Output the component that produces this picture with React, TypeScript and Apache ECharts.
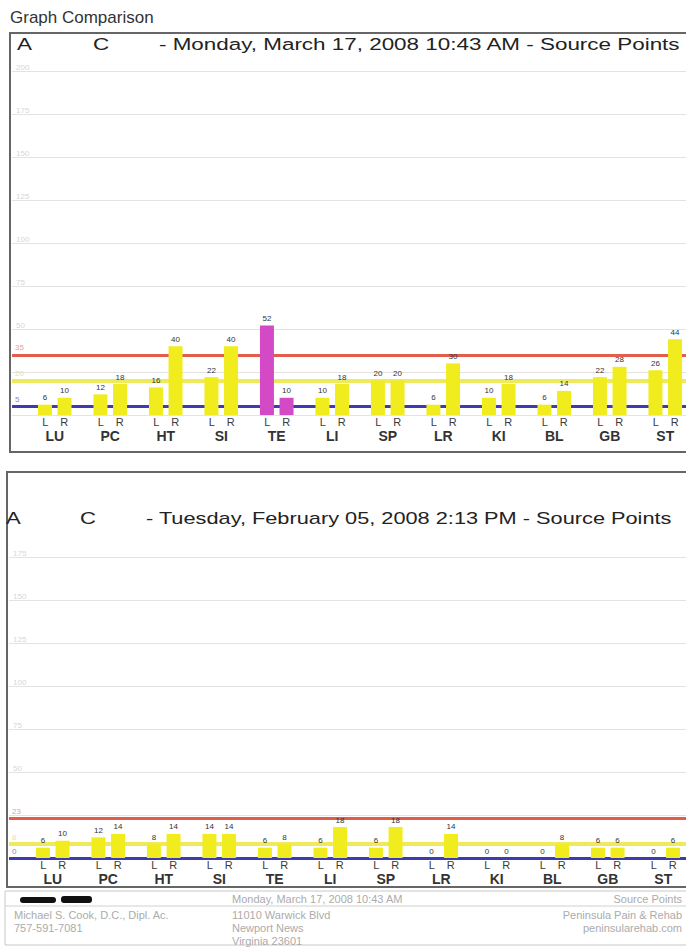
import React, { useEffect, useRef } from "react";
import * as echarts from "echarts";

const categories = ["LU", "PC", "HT", "SI", "TE", "LI", "SP", "LR", "KI", "BL", "GB", "ST"];
const marchLeft = [6, 12, 16, 22, 52, 10, 20, 6, 10, 6, 22, 26];
const marchRight = [10, 18, 40, 40, 10, 18, 20, 30, 18, 14, 28, 44];
const marchHighlighted = ["TE"];
const marchRefs = [35, 20, 5];
const febLeft = [6, 12, 8, 14, 6, 6, 6, 0, 0, 0, 6, 0];
const febRight = [10, 14, 14, 14, 8, 18, 18, 14, 0, 8, 6, 6];
const febHighlighted: string[] = [];
const febRefs = [23, 8, 0];
const yMaxTop = 200;
const yMaxBottom = 175;
const hiddenTickLabels = [0, 25];

const FONT = "'Liberation Sans', Arial, sans-serif";
const YELLOW = "#f1ec1e";
const MAGENTA = "#d449c6";
const REF_COLORS = ["#e35d4d", "#eeea5c", "#3d3cae"];
const REF_LABEL_COLORS = ["#e9a196", "#e6e2a0", "#8a8ad0"];
const REF_WIDTHS = [3, 4, 3];

function barData(vals: number[], highlighted: string[]) {
  return vals.map((v, i) => ({
    value: v,
    itemStyle: { color: highlighted.includes(categories[i]) ? MAGENTA : YELLOW },
  }));
}

function buildOption() {
  const grids = [
    { left: 12, right: 0, top: 71, height: 344 },
    { left: 27, width: 666, top: 71, height: 344 },
    { left: 9, right: 0, top: 557, height: 301 },
    { left: 25, width: 666, top: 557, height: 301 },
  ];
  const hiddenX = (gi: number) => ({
    gridIndex: gi,
    type: "category",
    data: ["s", "e"],
    boundaryGap: false,
    show: false,
  });
  const catX = (gi: number) => ({
    gridIndex: gi,
    type: "category",
    data: categories,
    axisLine: { show: false },
    axisTick: { show: false },
    axisLabel: {
      margin: 1,
      interval: 0,
      formatter: (v: string) => `{l|L}{r|R}\n{c|${v}}`,
      rich: {
        l: { width: 19, align: "center", fontSize: 11, color: "#3a3a3a", lineHeight: 12, fontFamily: FONT },
        r: { width: 19, align: "center", fontSize: 11, color: "#3a3a3a", lineHeight: 12, fontFamily: FONT },
        c: { fontSize: 14, fontWeight: "bold", color: "#333", lineHeight: 16, fontFamily: FONT },
      },
    },
  });
  const gridY = (gi: number, max: number) => ({
    gridIndex: gi,
    type: "value",
    min: 0,
    max,
    interval: 25,
    axisLine: { show: false },
    axisTick: { show: false },
    splitLine: { lineStyle: { color: "#e3e3e3", width: 1 } },
    axisLabel: {
      inside: true,
      color: "#d6d6d6",
      fontSize: 8,
      verticalAlign: "bottom",
      margin: 4,
      formatter: (v: number) => (hiddenTickLabels.includes(v) ? "" : String(v)),
    },
  });
  const barY = (gi: number, max: number) => ({
    gridIndex: gi,
    type: "value",
    min: 0,
    max,
    show: false,
    splitLine: { show: false },
  });
  const refSeries = (gi: number, refs: number[]) => ({
    type: "line",
    xAxisIndex: gi,
    yAxisIndex: gi,
    data: [null, null],
    silent: true,
    z: 1,
    markLine: {
      symbol: "none",
      silent: true,
      animation: false,
      z: 1,
      data: refs.map((v, i) => ({
        yAxis: v,
        lineStyle: { color: REF_COLORS[i], width: REF_WIDTHS[i], type: "solid" },
        label: {
          show: true,
          formatter: String(v),
          position: "insideStartTop",
          color: REF_LABEL_COLORS[i],
          fontSize: 8,
          distance: 3,
        },
      })),
    },
  });
  const bars = (gi: number, vals: number[], highlighted: string[], name: string) => ({
    type: "bar",
    name,
    xAxisIndex: gi,
    yAxisIndex: gi,
    barWidth: 14,
    barGap: "40%",
    z: 6,
    data: barData(vals, highlighted),
    label: { show: true, position: "top", distance: 3, fontSize: 8, color: "#333", fontFamily: FONT },
  });

  const titleText = (x: number, y: number, text: string, scale: number) => ({
    type: "text",
    x,
    y,
    scaleX: scale,
    style: { text, font: `17px ${FONT}`, fill: "#222", verticalAlign: "middle" },
  });
  const footText = (x: number, y: number, text: string, align = "left") => ({
    type: "text",
    x,
    y,
    style: { text, font: `11px ${FONT}`, fill: "#ababab", verticalAlign: "middle", align },
  });

  const graphic = [
    {
      type: "text",
      x: 10,
      y: 17,
      style: { text: "Graph Comparison", font: `17px ${FONT}`, fill: "#333", verticalAlign: "middle" },
    },
    {
      type: "rect",
      shape: { x: 10, y: 33, width: 730, height: 419 },
      style: { fill: "none", stroke: "#666", lineWidth: 2 },
    },
    titleText(17, 44, "A", 1.32),
    titleText(93, 44, "C", 1.32),
    titleText(159, 44, "- Monday, March 17, 2008 10:43 AM - Source Points", 1.32),
    {
      type: "rect",
      shape: { x: 7, y: 472, width: 730, height: 415 },
      style: { fill: "none", stroke: "#666", lineWidth: 2 },
    },
    titleText(6, 518, "A", 1.3),
    titleText(80, 518, "C", 1.3),
    titleText(146, 518, "- Tuesday, February 05, 2008 2:13 PM - Source Points", 1.28),
    {
      type: "rect",
      shape: { x: 5, y: 891, width: 690, height: 54 },
      style: { fill: "none", stroke: "#c8c8c8", lineWidth: 1 },
    },
    { type: "line", shape: { x1: 5, y1: 906, x2: 690, y2: 906 }, style: { stroke: "#d0d0d0", lineWidth: 1 } },
    { type: "rect", shape: { x: 20, y: 897, width: 36, height: 6, r: 3 }, style: { fill: "#111" } },
    { type: "rect", shape: { x: 61, y: 896, width: 31, height: 7, r: 3 }, style: { fill: "#111" } },
    footText(232, 899, "Monday, March 17, 2008 10:43 AM"),
    footText(682, 899, "Source Points", "right"),
    footText(14, 915, "Michael S. Cook, D.C., Dipl. Ac."),
    footText(14, 928, "757-591-7081"),
    footText(232, 915, "11010 Warwick Blvd"),
    footText(232, 928, "Newport News"),
    footText(232, 941, "Virginia 23601"),
    footText(682, 915, "Peninsula Pain & Rehab", "right"),
    footText(682, 928, "peninsularehab.com", "right"),
  ];

  return {
    animation: false,
    backgroundColor: "#ffffff",
    textStyle: { fontFamily: FONT },
    grid: grids,
    xAxis: [hiddenX(0), catX(1), hiddenX(2), catX(3)],
    yAxis: [gridY(0, yMaxTop), barY(1, yMaxTop), gridY(2, yMaxBottom), barY(3, yMaxBottom)],
    series: [
      refSeries(0, marchRefs),
      bars(1, marchLeft, marchHighlighted, "March L"),
      bars(1, marchRight, marchHighlighted, "March R"),
      refSeries(2, febRefs),
      bars(3, febLeft, febHighlighted, "Feb L"),
      bars(3, febRight, febHighlighted, "Feb R"),
    ],
    graphic,
  };
}

export default function App() {
  const ref = useRef<HTMLDivElement>(null);
  useEffect(() => {
    if (!ref.current) return;
    const chart = echarts.init(ref.current, undefined, { renderer: "svg" });
    chart.setOption(buildOption() as any);
    return () => chart.dispose();
  }, []);
  return (
    <div style={{ position: "fixed", left: 0, top: 0, width: 686, height: 947, overflow: "hidden", background: "#fff" }}>
      <div ref={ref} style={{ width: 730, height: 947 }} />
    </div>
  );
}
